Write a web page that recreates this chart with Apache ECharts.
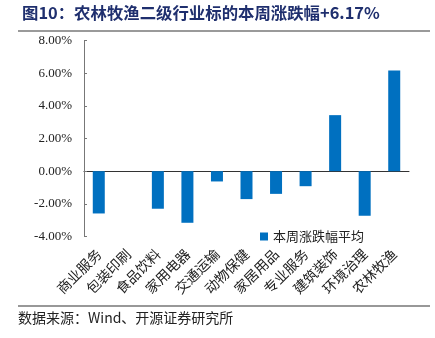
<!DOCTYPE html>
<html><head><meta charset="utf-8">
<script src="https://cdn.jsdelivr.net/npm/echarts@6/dist/echarts.min.js"></script>
<style>html,body{margin:0;padding:0;background:#fff}#c{width:435px;height:338px}</style>
</head><body><div id="c"></div>
<script>
const categories = ['商业服务','包装印刷','食品饮料','家用电器','交通运输','动物保健','家居用品','专业服务','建筑装饰','环境治理','农林牧渔'];
const values = [-2.59, 0, -2.30, -3.16, -0.63, -1.71, -1.39, -0.92, 3.43, -2.73, 6.17];
const seriesName = '本周涨跌幅平均';
const titleText = '图10：农林牧渔二级行业标的本周涨跌幅+6.17%';
const sourceText = '数据来源：Wind、开源证券研究所';

const chart = echarts.init(document.getElementById('c'));
chart.setOption({
  animation: false,
  backgroundColor: '#fff',
  grid: {left: 84, right: 26, top: 40.5, bottom: 101.5, containLabel: false},
  legend: {
    data: [seriesName], left: 255, top: 225, itemWidth: 8, itemHeight: 8, itemGap: 5,
    icon: 'rect',
    textStyle: {fontFamily: 'Noto Sans CJK SC', fontSize: 13, color: '#222', letterSpacing: 1}
  },
  xAxis: [{
    type: 'category', data: categories,
    axisLine: {onZero: true, lineStyle: {color: '#333', width: 1}},
    axisTick: {inside: true, length: 4, lineStyle: {color: '#555'}},
    axisLabel: {show: false}
  }, {
    type: 'category', data: categories, position: 'bottom',
    axisLine: {show: false, onZero: false},
    axisTick: {show: false},
    axisLabel: {rotate: 45, interval: 0, fontFamily: 'Noto Sans CJK SC', fontSize: 14, color: '#222', margin: 15, letterSpacing: 2}
  }],
  yAxis: {
    type: 'value', min: -4, max: 8, interval: 2,
    axisLine: {show: true, lineStyle: {color: '#777'}},
    axisTick: {show: true, inside: true, length: 3, lineStyle: {color: '#777'}},
    splitLine: {show: false},
    axisLabel: {formatter: v => v.toFixed(2) + '%', fontFamily: 'Liberation Serif', fontSize: 13, color: '#222', margin: 12}
  },
  series: [{
    name: seriesName, type: 'bar', data: values, barWidth: 12, xAxisIndex: 0,
    itemStyle: {color: '#0070C0'}
  }],
  graphic: [
    {type: 'text', left: 22, top: 5, style: {text: titleText, fontFamily: 'Noto Sans CJK SC', fontWeight: 'bold', fontSize: 16.4, fill: '#1F2F6E'}},
    {type: 'rect', shape: {x: 18, y: 30, width: 412, height: 2}, style: {fill: '#9a9a9a'}},
    {type: 'rect', shape: {x: 18, y: 305.5, width: 412, height: 1}, style: {fill: '#333'}},
    {type: 'text', left: 18, top: 311, style: {text: sourceText, fontFamily: 'Noto Sans CJK SC', fontSize: 14, fill: '#222'}}
  ]
});
</script></body></html>
